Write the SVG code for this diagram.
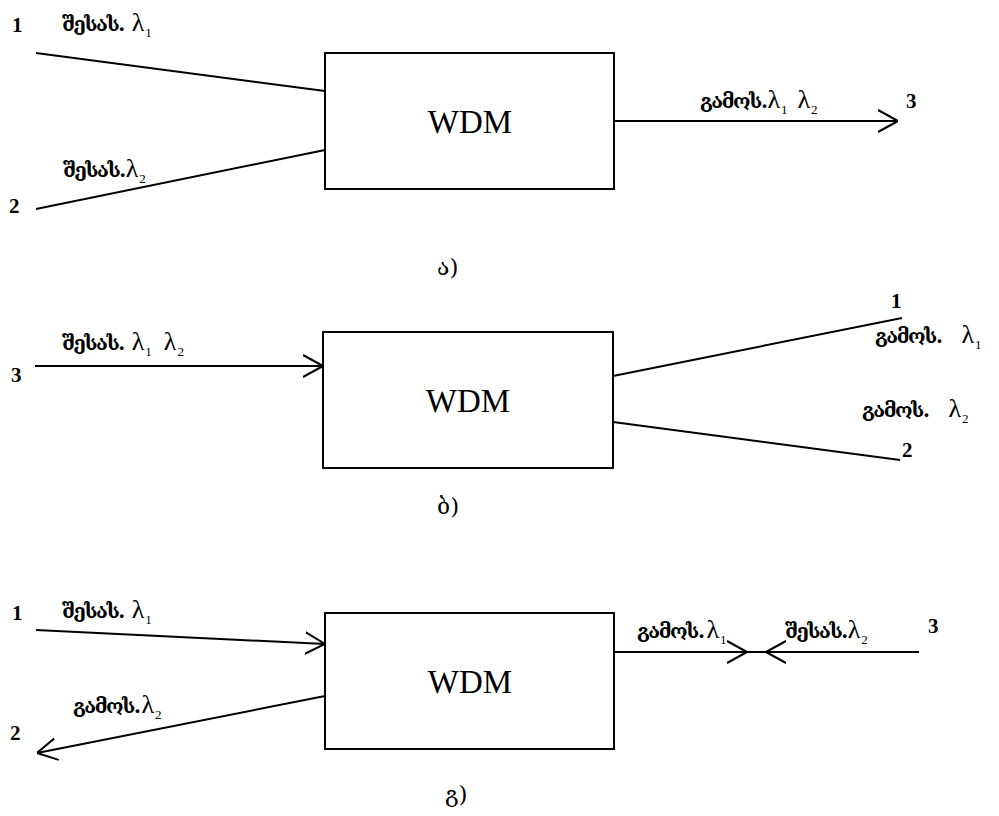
<svg xmlns="http://www.w3.org/2000/svg" width="999" height="816" viewBox="0 0 999 816">
<style>
.box{fill:none;stroke:#000;stroke-width:2}
.ln{fill:none;stroke:#000;stroke-width:2}
.num{font-family:"Liberation Serif","DejaVu Serif",serif;font-weight:bold;font-size:21px;fill:#000}
.lbl{font-family:"Liberation Serif","DejaVu Serif",serif;font-size:26px;fill:#000}
.g{font-family:"DejaVu Serif","DejaVu Sans",serif;font-weight:bold;font-size:20px;letter-spacing:-1.5px}
.s{font-size:13px}
.wdm{font-family:"Liberation Serif","DejaVu Serif",serif;font-size:33px;fill:#000}
.cap{font-family:"DejaVu Serif","Liberation Serif",serif;font-size:23px;fill:#000}
</style>
<defs>
<marker id="arr" viewBox="0 0 20 24" refX="20" refY="12" markerWidth="20" markerHeight="24" markerUnits="userSpaceOnUse" orient="auto">
<path d="M0,1 L20,12 L0,23" fill="none" stroke="#000" stroke-width="2"/>
</marker>
</defs>
<rect width="999" height="816" fill="#fff"/>

<g id="connectors">
<line class="ln" x1="36" y1="53" x2="325" y2="91"/>
<line class="ln" x1="36" y1="209" x2="325" y2="150"/>
<line class="ln" x1="614" y1="121" x2="898" y2="121" marker-end="url(#arr)"/>

<line class="ln" x1="35" y1="366" x2="323" y2="366" marker-end="url(#arr)"/>
<line class="ln" x1="613" y1="376" x2="902" y2="318"/>
<line class="ln" x1="613" y1="422" x2="900" y2="460"/>

<line class="ln" x1="36" y1="630" x2="325" y2="644" marker-end="url(#arr)"/>
<line class="ln" x1="325" y1="696" x2="37" y2="753" marker-end="url(#arr)"/>
<line class="ln" x1="614" y1="652" x2="747" y2="652" marker-end="url(#arr)"/>
<line class="ln" x1="919" y1="652" x2="766" y2="652" marker-end="url(#arr)"/>
<line class="ln" x1="747" y1="652" x2="766" y2="652"/>
</g>

<g id="wdm-a">
<rect class="box" x="325" y="53" width="289" height="136"/>
<text class="wdm" x="470" y="133" text-anchor="middle">WDM</text>
</g>
<g id="labels-a">
<text class="num" x="12" y="32">1</text>
<text class="lbl" x="62" y="31"><tspan class="g">შესას.</tspan><tspan dx="8">λ</tspan><tspan class="s" dx="1" dy="6">1</tspan></text>
<text class="lbl" x="63" y="177"><tspan class="g">შესას.</tspan><tspan dx="1">λ</tspan><tspan class="s" dx="1" dy="6">2</tspan></text>
<text class="num" x="9" y="213">2</text>
<text class="lbl" x="700" y="108"><tspan class="g">გამოს.</tspan><tspan dx="1">λ</tspan><tspan class="s" dx="1" dy="6">1</tspan><tspan dx="10" dy="-6">λ</tspan><tspan class="s" dx="1" dy="6">2</tspan></text>
<text class="num" x="906" y="108">3</text>
<text class="cap" x="437" y="275">ა)</text>
</g>

<g id="wdm-b">
<rect class="box" x="323" y="332" width="290" height="136"/>
<text class="wdm" x="468" y="412" text-anchor="middle">WDM</text>
</g>
<g id="labels-b">
<text class="num" x="11" y="382">3</text>
<text class="lbl" x="62" y="350"><tspan class="g">შესას.</tspan><tspan dx="8">λ</tspan><tspan class="s" dx="1" dy="6">1</tspan><tspan dx="12" dy="-6">λ</tspan><tspan class="s" dx="1" dy="6">2</tspan></text>
<text class="num" x="891" y="308">1</text>
<text class="lbl" x="875" y="343"><tspan class="g">გამოს.</tspan><tspan dx="20">λ</tspan><tspan class="s" dx="1" dy="6">1</tspan></text>
<text class="lbl" x="862" y="417"><tspan class="g">გამოს.</tspan><tspan dx="20">λ</tspan><tspan class="s" dx="1" dy="6">2</tspan></text>
<text class="num" x="902" y="457">2</text>
<text class="cap" x="437" y="514">ბ)</text>
</g>

<g id="wdm-c">
<rect class="box" x="325" y="613" width="289" height="136"/>
<text class="wdm" x="470" y="693" text-anchor="middle">WDM</text>
</g>
<g id="labels-c">
<text class="num" x="12" y="620">1</text>
<text class="lbl" x="62" y="618"><tspan class="g">შესას.</tspan><tspan dx="8">λ</tspan><tspan class="s" dx="1" dy="6">1</tspan></text>
<text class="lbl" x="73" y="713"><tspan class="g">გამოს.</tspan><tspan dx="2">λ</tspan><tspan class="s" dx="1" dy="6">2</tspan></text>
<text class="num" x="10" y="740">2</text>
<text class="lbl" x="637" y="638"><tspan class="g">გამოს.</tspan><tspan dx="3">λ</tspan><tspan class="s" dx="1" dy="6">1</tspan></text>
<text class="lbl" x="785" y="638"><tspan class="g">შესას.</tspan><tspan dx="1">λ</tspan><tspan class="s" dx="1" dy="6">2</tspan></text>
<text class="num" x="928" y="633">3</text>
<text class="cap" x="445" y="802">გ)</text>
</g>
</svg>
